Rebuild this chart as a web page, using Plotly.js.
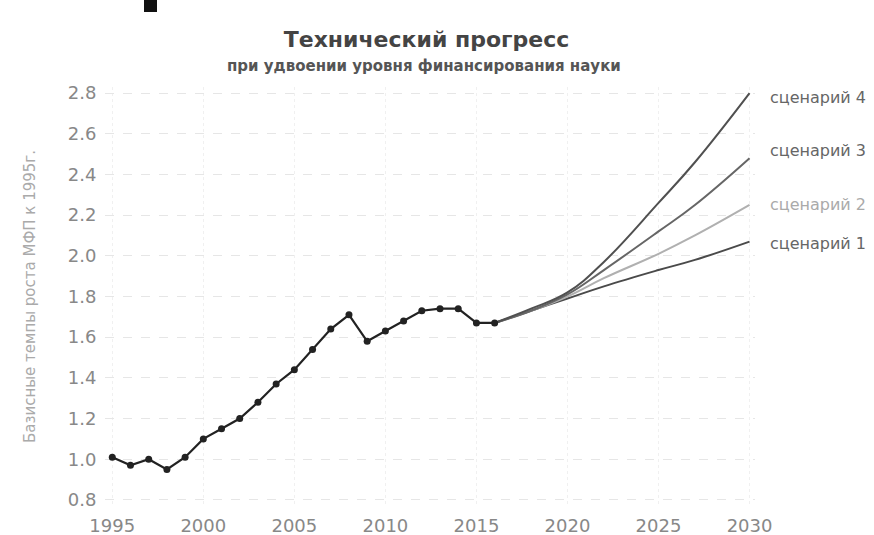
<!DOCTYPE html>
<html><head><meta charset="utf-8">
<script src="https://cdn.plot.ly/plotly-3.0.1.min.js"></script>
<style>body{margin:0;background:#fff}#chart{width:874px;height:535px}</style>
</head><body><div id="chart"></div>
<script>
const histYears = [1995,1996,1997,1998,1999,2000,2001,2002,2003,2004,2005,2006,2007,2008,2009,2010,2011,2012,2013,2014,2015,2016];
const histValues = [1.01,0.97,1.00,0.95,1.01,1.10,1.15,1.20,1.28,1.37,1.44,1.54,1.64,1.71,1.58,1.63,1.68,1.73,1.74,1.74,1.67,1.67];
const scenYears = [2016,2018,2020,2022,2025,2027,2030];
const scen1 = [1.67,1.73,1.79,1.85,1.93,1.98,2.07];
const scen2 = [1.67,1.73,1.80,1.89,2.01,2.10,2.25];
const scen3 = [1.67,1.73,1.81,1.93,2.12,2.25,2.48];
const scen4 = [1.67,1.74,1.82,1.97,2.26,2.46,2.80];
const scenNames = ['сценарий 1','сценарий 2','сценарий 3','сценарий 4'];
const scenLabelY = [2.06,2.25,2.52,2.78];
const scenColors = ['#4a4a4a','#b0b0b0','#666666','#505050'];
const xTicks = [1995,2000,2005,2010,2015,2020,2025,2030];
const yTicks = [0.8,1.0,1.2,1.4,1.6,1.8,2.0,2.2,2.4,2.6,2.8];

const font = 'DejaVu Sans, Arial, sans-serif';
const scenData = [scen1, scen2, scen3, scen4];
const traces = scenData.map((v,i)=>({
  x: scenYears, y: v, type:'scatter', mode:'lines', line:{shape:'spline', smoothing:1.2, color:scenColors[i], width:2},
  name: scenNames[i], hoverinfo:'x+y'
}));
traces.push({
  x: histYears, y: histValues, type:'scatter', mode:'lines+markers',
  line:{color:'#222', width:2.2}, marker:{color:'#222', size:7}, name:'факт'
});

const annotations = scenNames.map((n,i)=>({
  x: 1.02, y: scenLabelY[i], xref:'paper', yref:'y', text:n, showarrow:false,
  xanchor:'left', yanchor:'middle', font:{family:font, size:16, color: i===1 ? '#aaa' : '#666'}
}));
annotations.push({x:0.49, y:1, xref:'paper', yref:'paper', xanchor:'center', yanchor:'middle',
  yshift:21, text:'при удвоении уровня финансирования науки', showarrow:false,
  font:{family:font, size:15, color:'#555', weight:'bold'}});

const layout = {
  width:874, height:535,
  margin:{l:105, r:119, t:87, b:29},
  paper_bgcolor:'#fff', plot_bgcolor:'#fff',
  showlegend:false,
  title:{text:'Технический прогресс', x:0.488, xanchor:'center', y:0.926, yanchor:'middle',
    font:{family:font, size:22, color:'#444', weight:'bold'}},
  xaxis:{range:[1994.6,2030.3], tickvals:xTicks, ticktext:xTicks.map(String),
    showgrid:true, gridcolor:'#f0f0f0', griddash:'dot', zeroline:false, showline:false,
    tickfont:{family:font, size:18, color:'#888'}, ticks:'outside', ticklen:3, tickcolor:'rgba(0,0,0,0)'},
  yaxis:{range:[0.77,2.83], tickvals:yTicks, ticktext:yTicks.map(v=>v.toFixed(1)),
    showgrid:true, gridcolor:'#e6e6e6', griddash:'dash', zeroline:false, showline:false,
    tickfont:{family:font, size:18, color:'#888'}, ticks:'outside', ticklen:4, tickcolor:'rgba(0,0,0,0)',
    title:{text:'Базисные темпы роста МФП к 1995г.', font:{family:font, size:15, color:'#aaa'}, standoff:28}},
  annotations: annotations,
  shapes:[{type:'rect', xref:'paper', yref:'paper', x0:(144-105)/650, x1:(157-105)/650,
    y0:(506-12)/419, y1:(506-0)/419, fillcolor:'#111', line:{width:0}}]
};
Plotly.newPlot('chart', traces, layout, {displayModeBar:false});
</script></body></html>
